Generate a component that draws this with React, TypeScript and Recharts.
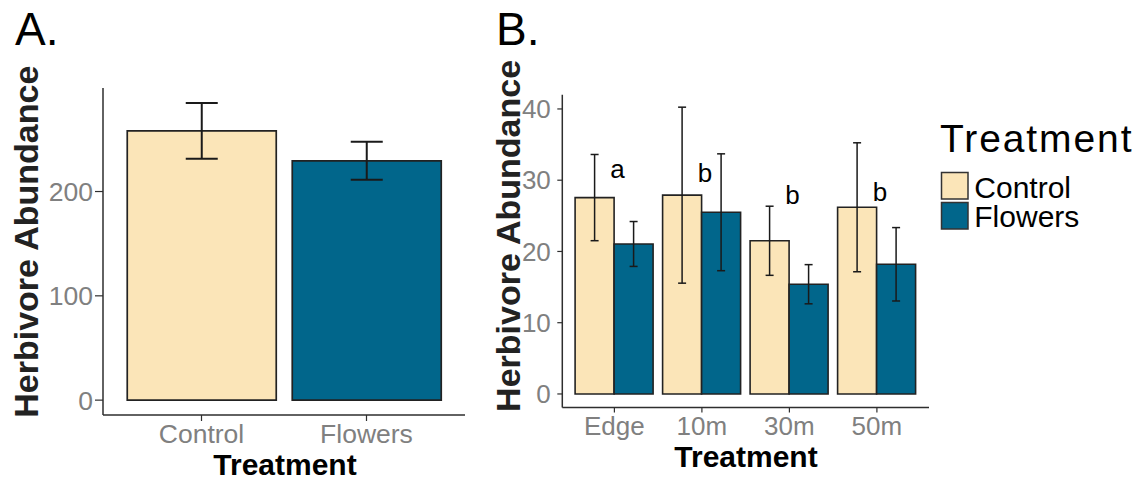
import React from 'react';
import { BarChart, Bar, XAxis, YAxis, ErrorBar, Legend, ReferenceDot, Cell } from 'recharts';

// ---- Panel A data ----
const treatments = ['Control', 'Flowers'];
const totalMeans = [258.1, 229.4];
const totalErrors = [26.7, 18.2];
const ticksA = [0, 100, 200];

// ---- Panel B data ----
const sites = ['Edge', '10m', '30m', '50m'];
const controlMeans = [27.56, 27.9, 21.5, 26.2];
const controlErrors = [6.05, 12.35, 4.85, 9.05];
const flowersMeans = [21.05, 25.5, 15.4, 18.2];
const flowersErrors = [3.15, 8.2, 2.75, 5.15];
const groupLetters = ['a', 'b', 'b', 'b'];
const letterHeights = [30.3, 29.8, 26.7, 27.1];
const ticksB = [0, 10, 20, 30, 40];

const COLORS = ['#FBE5B8', '#01668B'];
const FONT = '"Liberation Sans", Arial, Helvetica, sans-serif';
const AXIS = '#2e2e2e';
const TICK_TEXT = '#808080';

const dataA = treatments.map((t, i) => ({ treatment: t, mean: totalMeans[i], err: totalErrors[i] }));
const dataB = sites.map((s, i) => ({
  site: s,
  Control: controlMeans[i],
  Flowers: flowersMeans[i],
  controlErr: controlErrors[i],
  flowersErr: flowersErrors[i],
  letter: groupLetters[i],
  letterY: letterHeights[i],
}));

const renderLegend = (props: any) => {
  const payload = props.payload || [];
  return (
    <svg width={215} height={130} style={{ display: 'block', fontFamily: FONT }}>
      <text x={15} y={46.7} fontSize={39} letterSpacing={1.9} fill="#000">Treatment</text>
      {payload.map((p: any, i: number) => (
        <g key={i}>
          <rect x={16.5} y={67.5 + i * 30} width={26.5} height={26.5} fill={p.color} stroke="#333" strokeWidth={1.5} />
          <text x={49.3} y={93.3 + i * 28.4} fontSize={30} fill="#000">{p.value}</text>
        </g>
      ))}
    </svg>
  );
};

const letterLabel = (letter: string) => (props: any) => {
  const vb = props.viewBox || {};
  const cx = (vb.x ?? 0) + (vb.width ?? 0) / 2;
  const cy = (vb.y ?? 0) + (vb.height ?? 0) / 2;
  return (
    <text x={cx + 3} y={cy} textAnchor="middle" fontSize={26} fill="#000" fontFamily={FONT}>{letter}</text>
  );
};

const yTitle = (x: number, y: number) => () => (
  <text x={x} y={y} transform={`rotate(-90 ${x} ${y})`} textAnchor="middle" fontSize={34} fontWeight="bold" fill="#222" fontFamily={FONT}>
    Herbivore Abundance
  </text>
);

const xTitle = (x: number, y: number) => () => (
  <text x={x} y={y} textAnchor="middle" fontSize={30} fontWeight="bold" fill="#000" fontFamily={FONT}>
    Treatment
  </text>
);

export default function App() {
  return (
    <div style={{ position: 'absolute', left: 0, top: 0, width: 1148, height: 482, background: '#fff', fontFamily: FONT }}>
      <div style={{ position: 'absolute', left: 15, top: 6, fontSize: 46, lineHeight: 1, color: '#000' }}>A.</div>
      <div style={{ position: 'absolute', left: 496, top: 6, fontSize: 46, lineHeight: 1, color: '#000' }}>B.</div>

      <div style={{ position: 'absolute', left: 0, top: 0 }}>
        <BarChart width={480} height={482} data={dataA} margin={{ top: 88, right: 15, bottom: 37, left: 43 }} barCategoryGap={8.25}>
          <XAxis
            dataKey="treatment"
            height={30}
            padding={{ left: 16, right: 16 }}
            axisLine={{ stroke: AXIS, strokeWidth: 1.5 }}
            tickLine={{ stroke: AXIS, strokeWidth: 1.2 }}
            tickSize={6}
            tickMargin={3}
            tick={{ fill: TICK_TEXT, fontSize: 26.5, fontFamily: FONT }}
            label={{ content: xTitle(285, 475) }}
          />
          <YAxis
            width={60}
            domain={[-14.25, 299.25]}
            allowDataOverflow
            ticks={ticksA}
            axisLine={{ stroke: AXIS, strokeWidth: 1.5 }}
            tickLine={{ stroke: AXIS, strokeWidth: 1.2 }}
            tickSize={8}
            tickMargin={2}
            tick={{ fill: TICK_TEXT, fontSize: 26.5, fontFamily: FONT }}
            label={{ content: yTitle(38.3, 241.7) }}
          />
          <Bar dataKey="mean" stroke="#222" strokeWidth={1.7} isAnimationActive={false}>
            {dataA.map((d, i) => (
              <Cell key={d.treatment} fill={COLORS[i]} />
            ))}
            <ErrorBar dataKey="err" width={16} stroke="#1a1a1a" strokeWidth={2} />
          </Bar>
        </BarChart>
      </div>

      <div style={{ position: 'absolute', left: 480, top: 0 }}>
        <BarChart width={668} height={482} data={dataB} margin={{ top: 94.7, right: 219, bottom: 44.5, left: 42.3 }} barCategoryGap={4.45} barGap={0}>
          <XAxis
            dataKey="site"
            height={30}
            padding={{ left: 8.35, right: 8.35 }}
            axisLine={{ stroke: AXIS, strokeWidth: 1.5 }}
            tickLine={{ stroke: AXIS, strokeWidth: 1.2 }}
            tickSize={5}
            tickMargin={4}
            tick={{ fill: TICK_TEXT, fontSize: 26, fontFamily: FONT }}
            label={{ content: xTitle(266, 466.7) }}
          />
          <YAxis
            width={40}
            domain={[-1.9, 42.0]}
            allowDataOverflow
            ticks={ticksB}
            axisLine={{ stroke: AXIS, strokeWidth: 1.5 }}
            tickLine={{ stroke: AXIS, strokeWidth: 1.2 }}
            tickSize={5}
            tickMargin={6.5}
            tick={{ fill: TICK_TEXT, fontSize: 26, fontFamily: FONT }}
            label={{ content: yTitle(40.5, 235.9) }}
          />
          <Legend
            layout="vertical"
            align="center"
            verticalAlign="middle"
            wrapperStyle={{ left: 445, top: 105, width: 215, height: 130 }}
            content={renderLegend}
          />
          <Bar dataKey="Control" name="Control" fill={COLORS[0]} stroke="#222" strokeWidth={1.6} isAnimationActive={false}>
            <ErrorBar dataKey="controlErr" width={4} stroke="#1a1a1a" strokeWidth={1.5} />
          </Bar>
          <Bar dataKey="Flowers" name="Flowers" fill={COLORS[1]} stroke="#222" strokeWidth={1.6} isAnimationActive={false}>
            <ErrorBar dataKey="flowersErr" width={4} stroke="#1a1a1a" strokeWidth={1.5} />
          </Bar>
          {dataB.map((d) => (
            <ReferenceDot key={d.site} x={d.site} y={d.letterY} r={0} fill="none" stroke="none" label={{ content: letterLabel(d.letter) }} />
          ))}
        </BarChart>
      </div>
    </div>
  );
}
